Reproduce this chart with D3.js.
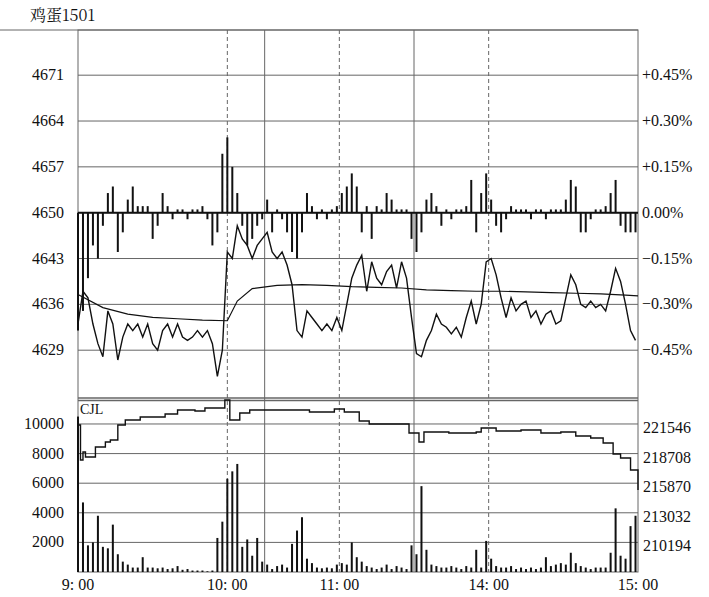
<!DOCTYPE html>
<html>
<head>
<meta charset="utf-8">
<script src="https://cdn.jsdelivr.net/npm/d3@7"></script>
<style>
  body { margin: 0; background: #fff; }
  svg text { font-family: "Liberation Serif", "DejaVu Serif", "Times New Roman", serif; fill: #111; }
  svg text.cjk { font-family: "Noto Serif CJK SC", "Noto Sans CJK SC", serif; }
</style>
</head>
<body>
<svg id="chart" width="709" height="597"></svg>
<script>
// price ticks (left) and percent labels (right)
const priceTicks = [4671, 4664, 4657, 4650, 4643, 4636, 4629];
const pctLabels = ["+0.45%", "+0.30%", "+0.15%", "0.00%", "\u22120.15%", "\u22120.30%", "\u22120.45%"];
const volTicks = [10000, 8000, 6000, 4000, 2000];
const oiTicks = [221546, 218708, 215870, 213032, 210194];
const timeLabels = ["9: 00", "10: 00", "11: 00", "14: 00", "15: 00"];
const timeLabelPos = [0, 60, 105, 165, 225];   // minutes of trading
const solidLines = [75, 135];                   // 10:15 break, 11:30 noon
const dashedLines = [60, 105, 165];

// series sampled every 2 trading minutes
const price = [4633, 4638, 4637, 4633, 4630, 4628, 4635, 4633, 4627.5, 4631, 4633, 4632, 4633, 4631, 4633,
  4630, 4629, 4632, 4633, 4631, 4633, 4631, 4630.5, 4631, 4632, 4631, 4632, 4630, 4625, 4629,
  4644, 4643, 4648, 4646, 4645, 4643, 4645, 4646, 4647, 4644, 4643, 4644, 4642, 4639, 4632,
  4631, 4635, 4634, 4633, 4632, 4633, 4632, 4634, 4632, 4636, 4640, 4642, 4643.5, 4638, 4642.5,
  4640, 4639, 4641, 4642, 4638.5, 4642.5, 4640, 4634, 4628.5, 4628, 4630.5, 4632, 4634.5, 4633, 4632.5,
  4631.5, 4632.5, 4631, 4634, 4636.5, 4633, 4636, 4642.5, 4643, 4640.5, 4637, 4634, 4637, 4635, 4636,
  4636.5, 4634, 4635, 4633, 4634.5, 4635, 4633, 4633.5, 4637, 4640.5, 4639, 4636, 4635.5, 4636.5, 4635.5,
  4636, 4635, 4638, 4641.5, 4639.5, 4636, 4632, 4630.5];
const change = [-18, -15, -10, -5, -7, -2, 3, 4, -6, -3, 2, 4, 1, 1, 1,
  -4, -2, 3, 1, -1, 0.5, 0.5, -1, 0.5, 0.5, 1, -1, -5, -3, 9,
  11.5, 7, 3, -2, -5, -4, -2, -1, 2, -3, 0.5, -1, -3, -6, -7,
  -3, 3, 1, -1, 0.5, -1, 0.5, 1, 3, 4, 6, 4, -3, 1, -4,
  1, 0.5, 3, 2, 0.5, 0.5, 0.5, -4, -6, -3, 2, 3, 1, -2, 0.5,
  -1, 0.5, 0.5, 1, 5, -3, 3, 6, 2, -2, -3, -1, 1, 0.5, 0.5,
  0.5, -1, 0.5, 0.5, -1, 0.5, 0.5, 0.5, 2, 5, 4, -3, -3, -1, 0.5,
  0.5, 1, 3, 5, -2, -3, -3, -3];
const volume = [10500, 4700, 1800, 2000, 3800, 1700, 1600, 3200, 1200, 700, 500, 300, 300, 1000, 300,
  300, 250, 300, 200, 250, 400, 150, 200, 100, 100, 100, 50, 100, 2300, 3400,
  6300, 6800, 7300, 1700, 2200, 1100, 2300, 700, 500, 200, 400, 500, 300, 1900, 2800,
  3700, 900, 600, 300, 250, 300, 250, 500, 600, 500, 2000, 1000, 700, 400, 300,
  200, 300, 500, 200, 400, 300, 200, 1800, 1200, 5800, 1500, 500, 400, 300, 300,
  400, 300, 200, 400, 300, 1500, 300, 2100, 900, 400, 300, 300, 400, 200, 300,
  200, 300, 200, 300, 1000, 400, 500, 600, 500, 1300, 600, 400, 300, 200, 300,
  300, 300, 1300, 4300, 1100, 900, 3100, 3800];

// average price line
const avgTimes = [0, 10, 20, 30, 40, 50, 60, 64, 70, 80, 90, 100, 110, 120, 130, 140, 150, 160, 170, 180, 190, 200, 210, 220, 225];
const avgPrice = [4637.5, 4635.5, 4634.5, 4634, 4633.8, 4633.6, 4633.5, 4636.5, 4638.4, 4638.9, 4639, 4638.9, 4638.7, 4638.6,
  4638.5, 4638.2, 4638.1, 4638, 4638, 4637.9, 4637.8, 4637.7, 4637.6, 4637.4, 4637.3];

// open interest (CJL)
const oiTimes = [0, 1, 2, 3, 7, 11, 13, 16, 19, 25, 35, 40, 47, 51, 57, 59, 61, 65, 69, 81, 93, 103, 107, 113, 117,
  129, 133, 135, 137, 139, 149, 160, 162, 168, 178, 186, 194, 200, 206, 211, 215, 218, 222, 225];
const oiValues = [221450, 218094, 218861, 218382, 219341, 219820, 220008, 221450, 221930, 222217, 222505, 222888, 222792,
  223080, 223080, 223847, 221930, 222600, 222888, 222888, 222696, 222984, 222696, 221834, 221546,
  221546, 220683, 220683, 219820, 220779, 220683, 220779, 221162, 220875, 220971, 220683, 220779,
  220396, 220204, 219724, 218670, 218286, 217136, 215218];

const svg = d3.select("#chart");
const L = 78, R = 638, T = 30, MID = 398, B = 572;

const x = d3.scaleLinear().domain([0, 225]).range([L, R]);
const yP = d3.scaleLinear().domain([4621.7, 4677.9]).range([MID, T]);
const yV = d3.scaleLinear().domain([0, 11620]).range([B, 400]);
const yO = d3.scaleLinear().domain([207356, 223847]).range([B, 400]);
const grid = "#666";

// title
svg.append("text").attr("class", "cjk").attr("x", 30).attr("y", 21).attr("font-size", 16).text("鸡蛋1501");
svg.append("line").attr("x1", 0).attr("x2", R).attr("y1", T).attr("y2", T).attr("stroke", grid);

// horizontal grids
svg.selectAll(".pg").data(priceTicks).enter().append("line")
  .attr("x1", L).attr("x2", R).attr("y1", d => yP(d)).attr("y2", d => yP(d)).attr("stroke", grid);
svg.selectAll(".vg").data(volTicks).enter().append("line")
  .attr("x1", L).attr("x2", R).attr("y1", d => yV(d)).attr("y2", d => yV(d)).attr("stroke", grid);

// vertical grids
svg.selectAll(".sl").data(solidLines).enter().append("line")
  .attr("x1", d => x(d)).attr("x2", d => x(d)).attr("y1", T).attr("y2", B).attr("stroke", grid);
svg.selectAll(".dl").data(dashedLines).enter().append("line")
  .attr("x1", d => x(d)).attr("x2", d => x(d)).attr("y1", T).attr("y2", B)
  .attr("stroke", grid).attr("stroke-dasharray", "4,3");

// frame
svg.append("rect").attr("x", L).attr("y", T).attr("width", R - L).attr("height", B - T)
  .attr("fill", "none").attr("stroke", grid);
svg.append("line").attr("x1", L).attr("x2", R).attr("y1", MID).attr("y2", MID).attr("stroke", grid).attr("stroke-width", 1.5);
svg.append("line").attr("x1", L).attr("x2", R).attr("y1", 400.5).attr("y2", 400.5).attr("stroke", grid).attr("stroke-width", 1.5);

// axis labels
svg.selectAll(".pl").data(priceTicks).enter().append("text")
  .attr("x", 64).attr("y", d => yP(d) + 5).attr("text-anchor", "end").attr("font-size", 16).text(d => d);
svg.selectAll(".pr").data(pctLabels).enter().append("text")
  .attr("x", 642).attr("y", (d, i) => yP(priceTicks[i]) + 5).attr("font-size", 16).text(d => d);
svg.selectAll(".vl").data(volTicks).enter().append("text")
  .attr("x", 64).attr("y", d => yV(d) + 5).attr("text-anchor", "end").attr("font-size", 16).text(d => d);
svg.selectAll(".ol").data(oiTicks).enter().append("text")
  .attr("x", 643).attr("y", d => yO(d) + 9).attr("font-size", 16).text(d => d);
svg.selectAll(".tl").data(timeLabels).enter().append("text")
  .attr("x", (d, i) => x(timeLabelPos[i])).attr("y", 590).attr("text-anchor", "middle")
  .attr("font-size", 16).text(d => d);
svg.append("text").attr("x", 80).attr("y", 414).attr("font-size", 14).text("CJL");

// change bars around 4650
const t2 = i => i * 2 > 225 ? 225 : i * 2;
svg.selectAll(".cb").data(change).enter().append("rect")
  .attr("x", (d, i) => x(t2(i)) - 1)
  .attr("y", d => d > 0 ? yP(4650 + d) : yP(4650))
  .attr("width", 2)
  .attr("height", d => Math.abs(yP(4650 + d) - yP(4650)))
  .attr("fill", "#111");
svg.append("line").attr("x1", L).attr("x2", R).attr("y1", yP(4650)).attr("y2", yP(4650))
  .attr("stroke", "#111").attr("stroke-width", 2);

// price and average lines
const line = d3.line();
svg.append("path")
  .attr("d", line(price.map((d, i) => [x(t2(i)), yP(d)])))
  .attr("fill", "none").attr("stroke", "#111").attr("stroke-width", 1.4);
svg.append("path")
  .attr("d", line(avgPrice.map((d, i) => [x(avgTimes[i]), yP(d)])))
  .attr("fill", "none").attr("stroke", "#111").attr("stroke-width", 1.2);

// volume bars
svg.selectAll(".vb").data(volume).enter().append("rect")
  .attr("x", (d, i) => x(t2(i)) - 1).attr("y", d => yV(d))
  .attr("width", 2).attr("height", d => B - yV(d)).attr("fill", "#111");

// open interest line
svg.append("path")
  .attr("d", d3.line().curve(d3.curveStepAfter)(oiValues.map((d, i) => [x(oiTimes[i]), yO(d)])))
  .attr("fill", "none").attr("stroke", "#111").attr("stroke-width", 1.4);
</script>
</body>
</html>
